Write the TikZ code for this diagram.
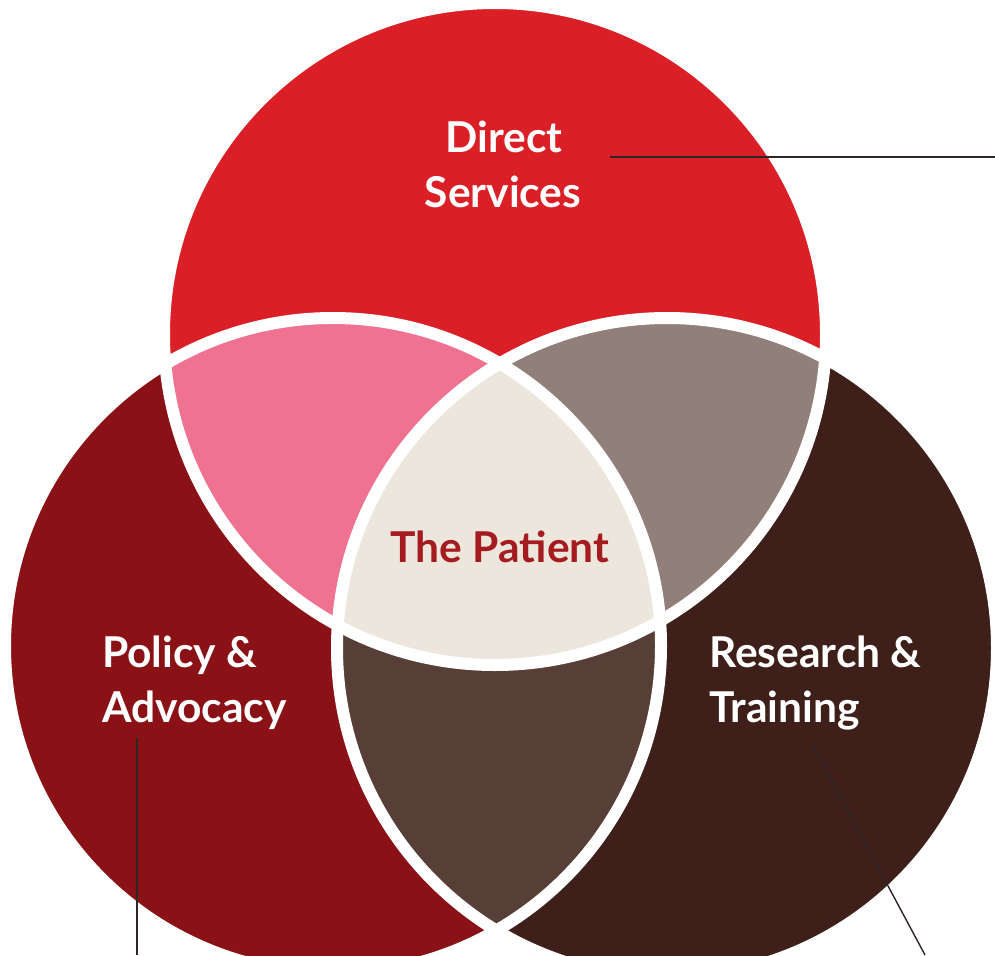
\documentclass[tikz,border=0pt]{standalone}
\usepackage{fontspec}
\setmainfont{Lato}[BoldFont={* Bold}]
\definecolor{topred}{HTML}{DA1F26}
\definecolor{leftred}{HTML}{8A1216}
\definecolor{rightbrown}{HTML}{3E1F1A}
\definecolor{pinkreg}{HTML}{EF7290}
\definecolor{greyreg}{HTML}{918079}
\definecolor{lowreg}{HTML}{573E37}
\definecolor{centerreg}{HTML}{ECE6DD}
\definecolor{patientred}{HTML}{A51C20}
\definecolor{leader}{HTML}{2E2624}
\begin{document}
\begin{tikzpicture}[x=1pt,y=-1pt,
  lbl/.style={text=white,font=\fontsize{42.5}{50}\selectfont\bfseries,inner sep=0pt},
  leadline/.style={draw=leader,line width=1.4pt},
  sep/.style={draw=white,line width=12pt}]
\useasboundingbox (0,0) rectangle (995,955);
\begin{scope}
\clip (0,0) rectangle (995,955);
\def\RT{331}
\def\RL{328}
\def\RR{330}
\coordinate (ct) at (495,334);
\coordinate (cl) at (333,646);
\coordinate (cr) at (667,648);
\fill[topred] (ct) circle (\RT);
\fill[leftred] (cl) circle (\RL);
\fill[rightbrown] (cr) circle (\RR);
\begin{scope}
  \clip (ct) circle (\RT);
  \fill[pinkreg] (cl) circle (\RL);
  \fill[greyreg] (cr) circle (\RR);
\end{scope}
\begin{scope}
  \clip (cl) circle (\RL);
  \fill[lowreg] (cr) circle (\RR);
\end{scope}
\begin{scope}
  \clip (ct) circle (\RT);
  \clip (cl) circle (\RL);
  \fill[centerreg] (cr) circle (\RR);
\end{scope}
\draw[sep] (ct) circle (\RT);
\draw[sep] (cl) circle (\RL);
\draw[sep] (cr) circle (\RR);
\end{scope}

\node[lbl,anchor=base] (ds1) at (504,152) {Direct};
\node[lbl,anchor=base] (ds2) at (503,207) {Services};
\node[lbl,anchor=base west] (pa1) at (102,667) {Policy \&};
\node[lbl,anchor=base west] (pa2) at (102,722) {Advocacy};
\node[lbl,anchor=base west] (rt1) at (709,667) {Research \&};
\node[lbl,anchor=base west] (rt2) at (709,722) {Training};
\node[lbl,anchor=base,text=patientred] (pt) at (500,562) {The Patient};

\coordinate (dsA) at (610,157);
\coordinate (dsB) at (995,157);
\coordinate (paA) at (137,738);
\coordinate (paB) at (137,955);
\coordinate (rtA) at (812,744);
\coordinate (rtB) at (925,955);
\draw[leadline] (dsA) -- (dsB);
\draw[leadline] (paA) -- (paB);
\draw[leadline] (rtA) -- (rtB);
\end{tikzpicture}
\end{document}
